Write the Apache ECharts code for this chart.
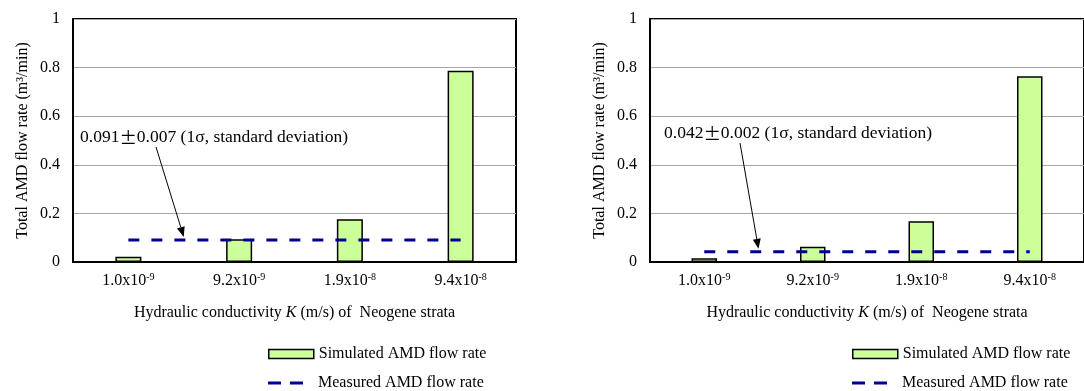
<!DOCTYPE html>
<html>
<head>
<meta charset="utf-8">
<script src="https://cdn.jsdelivr.net/npm/echarts@6/dist/echarts.min.js"></script>
<style>
html,body{margin:0;padding:0;background:#fff;}
#main{width:1084px;height:391px;}
</style>
</head>
<body>
<div id="main"></div>
<script>
// K values of the Neogene strata (mantissa^exponent)
var categories = ['1.0x10^-9', '9.2x10^-9', '1.9x10^-8', '9.4x10^-8'];
// simulated AMD flow rate (m3/min), left and right panels
var simLeft = [0.022, 0.094, 0.176, 0.787];
var simRight = [0.015, 0.063, 0.168, 0.764];
// measured AMD flow rate
var measLeft = [0.091, 0.091, 0.091, 0.091];
var measRight = [0.042, 0.042, 0.042, 0.042];
var notes = [['0.091', '0.007'], ['0.042', '0.002']];
var simName = 'Simulated AMD flow rate';
var measName = 'Measured AMD flow rate';

var serif = '"Liberation Serif", "Times New Roman", serif';

function xAxisFor(idx){
    return {
        type: 'category',
        gridIndex: idx,
        data: categories,
        boundaryGap: true,
        axisLine: {show: true, lineStyle: {color: '#000', width: 2}},
        axisTick: {show: false},
        axisLabel: {
            margin: 10,
            formatter: function(v){
                var p = v.split('^');
                return '{b|' + p[0] + '}{s|' + p[1] + '}';
            },
            rich: {
                b: {fontFamily: serif, fontSize: 16, color: '#000', lineHeight: 18},
                s: {fontFamily: serif, fontSize: 10, color: '#000', verticalAlign: 'top', lineHeight: 18, padding: [0, 0, 6, 0]}
            }
        },
        name: '{a|Hydraulic conductivity }{i|K}{a| (m/s) of  Neogene strata}',
        nameLocation: 'middle',
        nameGap: 43,
        nameTextStyle: {
            rich: {
                a: {fontFamily: serif, fontSize: 16, color: '#000'},
                i: {fontFamily: serif, fontSize: 16, color: '#000', fontStyle: 'italic'}
            }
        }
    };
}

function yAxisFor(idx){
    return {
        type: 'value',
        gridIndex: idx,
        min: 0,
        max: 1,
        interval: 0.2,
        axisLine: {show: true, lineStyle: {color: '#000', width: 2}},
        axisTick: {show: false},
        axisLabel: {margin: 13, fontFamily: serif, fontSize: 16, color: '#000'},
        splitLine: {show: true, lineStyle: {color: '#a6a6a6', width: 1}},
        name: 'Total AMD flow rate (m³/min)',
        nameLocation: 'middle',
        nameGap: 42,
        nameTextStyle: {fontFamily: serif, fontSize: 16, color: '#000'}
    };
}

function barSeries(idx, data){
    return {
        name: simName,
        type: 'bar',
        xAxisIndex: idx,
        yAxisIndex: idx,
        barWidth: '23.5%',
        data: data,
        itemStyle: {color: '#ccff99', borderColor: '#000', borderWidth: 1.5}
    };
}

function lineSeries(idx, data){
    return {
        name: measName,
        type: 'line',
        xAxisIndex: idx,
        yAxisIndex: idx,
        symbol: 'none',
        data: data,
        lineStyle: {color: '#000090', width: 3, type: [11, 12]},
        itemStyle: {color: '#000090'},
        z: 5
    };
}

var legendText = {fontFamily: serif, fontSize: 16, color: '#000'};
function simLegend(left){
    return {
        left: left, top: 346, padding: 0,
        itemWidth: 45, itemHeight: 9,
        data: [{name: simName, icon: 'rect'}],
        itemStyle: {borderColor: '#000', borderWidth: 1.5},
        textStyle: legendText,
        selectedMode: false
    };
}
function measLegend(left){
    return {
        left: left, top: 375, padding: 0,
        itemWidth: 35, itemHeight: 3,
        data: [{name: measName, icon: 'path://M0,0H13V3H0Z M22,0H35V3H22Z'}],
        textStyle: {fontFamily: serif, fontSize: 16, color: '#000', padding: [0, 0, 0, 10]},
        selectedMode: false
    };
}

var chart = echarts.init(document.getElementById('main'));
var option = {
    animation: false,
    backgroundColor: '#fff',
    grid: [
        {left: 73, top: 19, width: 443, height: 243, show: true, borderColor: '#000', borderWidth: 2},
        {left: 650, top: 19, width: 444, height: 243, show: true, borderColor: '#000', borderWidth: 2}
    ],
    xAxis: [xAxisFor(0), xAxisFor(1)],
    yAxis: [yAxisFor(0), yAxisFor(1)],
    legend: [simLegend(268), measLegend(268), simLegend(852), measLegend(852)],
    series: [
        barSeries(0, simLeft),
        lineSeries(0, measLeft),
        barSeries(1, simRight),
        lineSeries(1, measRight)
    ]
};
chart.setOption(option);

// annotation text + arrow pointing at the measured line
var noteLeft = [80, 664];
var noteMid = [137, 133];
var measured = [measLeft[0], measRight[0]];
function drawNotes(){
    var g = [];
    for (var k = 0; k < 2; k++) {
        g.push({
            type: 'text',
            x: noteLeft[k],
            y: noteMid[k],
            style: {
                text: '{a|' + notes[k][0] + '}{p|±}{a|' + notes[k][1] + ' (1σ, standard deviation)}',
                verticalAlign: 'middle',
                rich: {
                    a: {fontFamily: serif, fontSize: 17.5, fill: '#000'},
                    p: {fontFamily: '"Noto Sans CJK JP"', fontSize: 17.5, fill: '#000'}
                }
            }
        });
        var p0 = chart.convertToPixel({xAxisIndex: k, yAxisIndex: k}, [0, measured[k]]);
        var p1 = chart.convertToPixel({xAxisIndex: k, yAxisIndex: k}, [1, measured[k]]);
        var tx = (p0[0] + p1[0]) / 2;
        var ty = p0[1] - 3;
        var sx = noteLeft[k] + 76;
        var sy = noteMid[k] + 10;
        var dx = tx - sx, dy = ty - sy;
        var len = Math.sqrt(dx * dx + dy * dy);
        var ux = dx / len, uy = dy / len;
        var hl = 10, hw = 4;
        var bx = tx - ux * hl, by = ty - uy * hl;
        g.push({
            type: 'line',
            shape: {x1: sx, y1: sy, x2: bx, y2: by},
            style: {stroke: '#000', lineWidth: 1}
        });
        g.push({
            type: 'polygon',
            shape: {points: [[tx, ty], [bx - uy * hw, by + ux * hw], [bx + uy * hw, by - ux * hw]]},
            style: {fill: '#000'}
        });
    }
    chart.setOption({graphic: g});
}
drawNotes();

window.onresize = function(){
    chart.resize();
    drawNotes();
};
</script>
</body>
</html>
